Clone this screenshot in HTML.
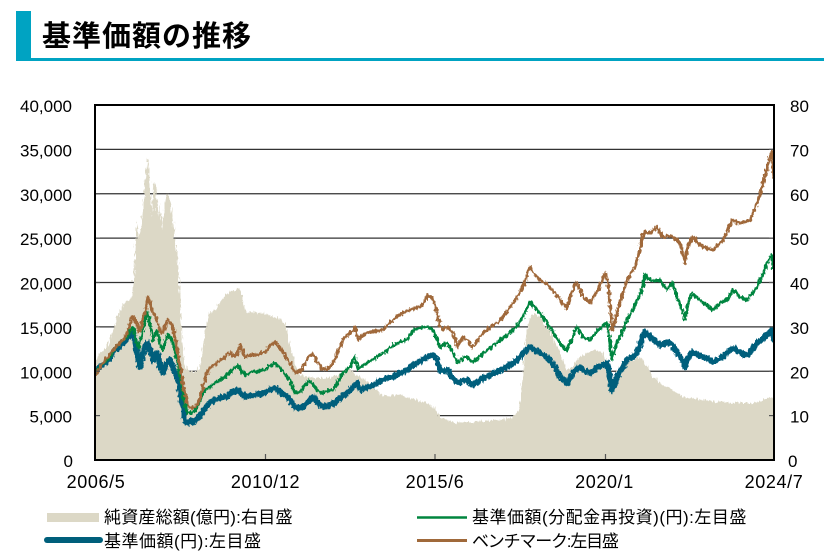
<!DOCTYPE html>
<html>
<head>
<meta charset="utf-8">
<style>
  html, body { margin:0; padding:0; background:#fff; }
  svg { display:block; }
  text { font-family: "Liberation Sans", "Noto Sans CJK JP", sans-serif; fill:#000; }
</style>
</head>
<body>
<svg width="824" height="556" viewBox="0 0 824 556" xmlns="http://www.w3.org/2000/svg">
  <defs>
    <clipPath id="plot"><rect x="95" y="105" width="679" height="355"/></clipPath>
    <filter id="jit" filterUnits="userSpaceOnUse" x="80" y="90" width="710" height="390">
      <feTurbulence type="fractalNoise" baseFrequency="0.45 0.25" numOctaves="2" seed="7" result="t"/>
      <feDisplacementMap in="SourceGraphic" in2="t" scale="5" xChannelSelector="R" yChannelSelector="G"/>
    </filter>
    <filter id="jitA" filterUnits="userSpaceOnUse" x="80" y="90" width="710" height="390">
      <feTurbulence type="fractalNoise" baseFrequency="0.6 0.15" numOctaves="2" seed="3" result="t"/>
      <feDisplacementMap in="SourceGraphic" in2="t" scale="6" xChannelSelector="R" yChannelSelector="G"/>
    </filter>
  </defs>

  <!-- Title -->
  <rect x="16" y="11" width="15" height="50" fill="#00a3c2"/>
  <rect x="16" y="58" width="808" height="3" fill="#00a3c2"/>
  <text x="42" y="46" font-size="29" font-weight="bold" letter-spacing="1">基準価額の推移</text>

  <!-- Grid lines (behind area) -->
  <g stroke="#333" stroke-width="1.2">
    <line x1="95" x2="774" y1="149.4" y2="149.4"/>
    <line x1="95" x2="774" y1="193.75" y2="193.75"/>
    <line x1="95" x2="774" y1="238.1" y2="238.1"/>
    <line x1="95" x2="774" y1="282.5" y2="282.5"/>
    <line x1="95" x2="774" y1="326.9" y2="326.9"/>
    <line x1="95" x2="774" y1="371.25" y2="371.25"/>
    <line x1="95" x2="774" y1="415.6" y2="415.6"/>
  </g>

  <g clip-path="url(#plot)">
    <!-- Net assets area -->
    <polygon filter="url(#jitA)" fill="#dcd8c6" points="95,363 98,356 100,353 103,351 105,350 108,345 110,340 112,333 115,323 118,315 120,310 123,305 125,303 128,301 130,300 132,295 133,290 134,270 135,250 136,232 137,220 138,232 139,240 140,233 141,227 142,220 143,210 144,195 145,180 146,170 147,162 148,158 149,170 150,187 151,200 152,217 153,195 154,183 155,185 156,187 157,200 158,217 159,210 160,203 161,215 162,230 163,220 164,213 165,205 166,197 167,194 168,193 169,195 170,200 171,207 172,215 173,222 174,230 175,240 176,245 177,250 178,262 179,277 180,295 181,315 182,337 183,348 184,357 185,365 187,370 190,371 193,372 196,372 198,370 200,365 202,352 204,340 205,333 207,325 209,316 210,313 212,311 215,310 218,305 220,302 222,300 225,297 228,293 230,290 232,292 234,290 236,291 238,288 240,290 242,297 245,310 247,313 250,312 253,313 255,311 258,313 262,313 266,314 270,315 273,316 275,317 278,318 282,320 285,323 287,333 290,347 292,355 295,365 298,370 300,375 305,377 310,377 317,378 325,378 333,377 340,374 345,372 350,370 355,374 360,377 365,380 370,384 373,387 378,392 383,396 390,395 395,396 400,395 405,397 410,398 417,400 423,402 428,404 433,407 437,412 440,417 445,419 450,421 457,423 463,422 468,422 473,422 480,421 487,421 493,420 500,420 505,419 510,418 513,417 516,415 518,410 520,403 522,385 524,360 526,340 527,330 529,320 530,317 532,314 535,313 538,316 540,317 543,322 546,327 550,330 553,337 556,344 560,353 563,360 565,366 567,370 570,368 573,367 577,361 580,357 585,354 590,351 593,350 597,351 600,352 603,353 606,360 608,372 610,380 612,385 615,378 618,370 620,367 625,364 630,361 633,360 637,358 640,357 643,360 647,366 650,372 653,377 657,380 660,383 664,386 667,387 672,390 677,393 683,397 690,398 697,399 703,400 710,401 718,402 727,402 735,403 743,403 750,403 757,402 763,400 768,398 772,397 774,398 780,398 780,470 90,470 90,363"/>

    <!-- NAV (blue) -->
    <polyline filter="url(#jit)" fill="none" stroke="#005f7b" stroke-width="5.8" stroke-linejoin="round" stroke-linecap="round" points="95,372 98,369 101,366 105,363 108,360 111,356 115,350 118,348 121,345 123,343 126,340 128,338 131,334 133,332 135,340 137,353 139,362 140,367 142,358 143,353 145,347 147,343 149,346 150,350 152,356 153,360 155,355 157,353 159,360 160,367 162,370 163,373 165,367 167,363 169,360 170,360 172,364 173,367 175,372 177,377 179,384 180,390 182,403 184,413 185,420 187,423 189,422 191,421 193,422 195,420 198,418 200,417 202,413 205,408 208,405 211,402 215,400 218,399 221,398 225,397 228,396 232,392 235,391 238,390 241,393 245,397 248,396 251,395 255,395 258,394 262,393 265,393 268,391 272,389 275,388 278,390 282,393 285,395 288,397 291,401 293,405 295,408 298,408 302,407 305,405 308,403 311,399 313,397 316,400 318,403 321,405 325,407 330,405 335,403 338,400 343,396 348,392 352,388 357,383 360,388 362,390 365,388 367,387 372,386 377,383 383,380 388,378 393,377 398,374 403,372 407,370 412,366 417,363 421,361 424,359 427,357 430,356 432,355 435,357 437,360 439,366 440,370 443,371 447,370 450,374 453,378 456,381 458,383 461,382 464,380 467,380 470,383 473,385 476,383 479,381 483,378 487,377 491,375 495,373 500,370 504,368 508,366 513,363 516,361 520,357 523,353 526,350 530,347 533,349 537,351 540,353 545,356 550,360 555,367 560,377 563,380 567,383 570,378 573,373 577,369 580,367 583,370 587,372 590,373 594,371 598,367 602,366 605,363 607,363 609,370 611,382 612,390 614,386 617,377 620,372 623,367 627,360 630,358 634,356 637,353 640,345 643,336 645,332 648,335 650,337 654,340 657,343 660,345 664,344 667,342 670,343 673,346 677,353 680,356 683,362 685,367 687,360 690,355 693,352 696,354 700,356 703,357 707,358 710,360 713,362 717,360 720,358 724,356 727,353 730,350 733,348 737,350 740,352 744,354 747,355 750,352 753,348 757,343 760,341 764,338 767,335 770,332 772,329 774,340"/>

    <!-- NAV reinvested (green) -->
    <polyline filter="url(#jit)" fill="none" stroke="#00853f" stroke-width="3" stroke-linejoin="round" points="95,372 98,369 101,366 105,362 108,359 111,355 115,348 118,345 121,342 123,340 126,337 128,335 131,330 133,327 135,335 137,345 139,347 140,342 142,335 143,330 145,322 147,312 149,318 150,325 152,333 153,340 155,335 157,330 159,338 160,345 162,348 163,350 165,342 167,337 168,335 170,337 172,340 174,348 177,360 179,368 180,375 182,388 183,395 185,405 187,413 190,413 192,412 195,411 198,405 200,400 202,396 205,390 208,388 210,387 213,385 215,383 218,381 221,379 225,377 228,374 232,370 235,368 238,365 241,370 245,375 248,374 251,372 255,372 258,371 262,370 265,370 268,367 272,365 275,363 278,366 282,370 285,374 288,378 290,380 293,388 295,393 298,392 302,390 305,385 308,381 312,383 316,388 320,393 325,392 330,390 333,390 338,382 343,373 347,369 350,367 353,360 355,357 358,370 362,366 367,363 372,360 377,357 383,353 388,350 393,345 398,343 403,341 407,340 410,335 413,330 417,329 421,328 424,327 427,327 430,328 433,330 436,337 438,342 440,347 443,345 447,343 450,348 453,353 456,358 458,363 461,360 464,357 467,357 470,360 473,362 476,360 479,357 483,353 487,350 491,347 495,344 500,340 504,337 508,334 513,330 516,327 520,322 523,317 526,310 528,306 530,302 533,305 537,310 540,313 545,320 550,327 555,335 560,343 563,347 567,350 570,343 573,337 575,330 577,327 580,332 583,337 587,339 590,340 594,335 598,330 602,327 605,323 607,323 609,335 611,352 612,360 614,352 617,343 620,337 623,330 627,320 630,315 634,308 637,300 640,295 642,290 644,280 645,275 648,278 650,280 654,281 657,280 660,280 664,286 667,290 670,285 672,283 675,290 677,297 680,305 683,313 685,320 687,308 690,298 693,293 696,297 700,300 703,303 707,305 710,308 713,310 717,306 720,303 724,301 727,300 730,295 733,290 737,293 740,297 744,299 747,300 750,296 753,293 757,287 760,280 764,272 767,263 770,258 772,255 774,270"/>

    <!-- Benchmark (brown) -->
    <polyline filter="url(#jit)" fill="none" stroke="#a0693a" stroke-width="3" stroke-linejoin="round" points="95,375 98,371 101,366 105,360 108,357 111,353 115,348 118,345 121,342 123,340 126,335 128,330 131,322 133,316 135,320 137,325 139,332 140,330 142,322 145,313 147,302 148,297 150,303 152,310 155,315 158,325 160,330 162,333 164,330 166,324 168,320 170,322 172,325 174,332 176,342 178,355 180,365 182,378 184,390 186,398 188,405 190,407 192,408 195,407 198,403 200,398 202,390 205,380 208,370 211,367 215,365 218,362 221,360 225,357 228,354 230,352 233,356 237,355 240,345 243,352 245,357 248,356 251,355 255,355 258,354 262,353 265,352 268,348 272,344 275,342 278,346 282,350 285,355 288,360 290,363 293,368 295,373 298,372 302,370 305,363 308,358 312,353 315,358 318,363 321,367 325,370 330,367 333,363 338,352 343,340 347,335 350,333 353,330 355,327 358,340 362,336 367,333 372,332 377,331 383,330 388,325 393,320 398,316 403,313 407,311 410,310 415,308 420,307 424,302 428,295 431,297 433,300 436,308 438,317 440,325 442,330 445,328 447,327 450,330 453,333 456,340 457,347 460,342 463,337 467,340 470,344 472,347 476,343 479,338 483,333 487,330 491,327 495,324 500,320 504,316 508,310 513,303 516,299 520,292 523,287 526,278 528,272 530,267 533,272 537,277 540,280 545,283 550,287 555,293 560,300 563,304 567,308 570,298 573,290 575,285 577,283 580,290 583,297 587,300 590,303 594,296 598,290 602,280 605,273 607,278 608,283 610,305 612,330 614,325 617,313 620,302 623,293 627,280 630,275 635,267 638,258 640,250 643,235 645,232 650,233 654,230 657,227 660,232 663,237 667,236 670,236 673,237 677,240 680,243 683,255 685,263 687,250 690,242 693,237 696,240 700,245 703,247 707,248 710,249 713,250 717,246 720,243 723,240 727,232 730,224 732,220 736,222 740,223 744,222 747,221 750,220 753,213 757,203 760,195 763,183 766,173 768,165 770,157 772,152 774,178"/>
  </g>

  <!-- Ticks (above area) -->
  <g stroke="#555" stroke-width="1.2">
    <line x1="95" x2="100" y1="149.4" y2="149.4"/>
    <line x1="95" x2="100" y1="193.75" y2="193.75"/>
    <line x1="95" x2="100" y1="238.1" y2="238.1"/>
    <line x1="95" x2="100" y1="282.5" y2="282.5"/>
    <line x1="95" x2="100" y1="326.9" y2="326.9"/>
    <line x1="95" x2="100" y1="371.25" y2="371.25"/>
    <line x1="95" x2="100" y1="415.6" y2="415.6"/>
    <line x1="769" x2="774" y1="149.4" y2="149.4"/>
    <line x1="769" x2="774" y1="193.75" y2="193.75"/>
    <line x1="769" x2="774" y1="238.1" y2="238.1"/>
    <line x1="769" x2="774" y1="282.5" y2="282.5"/>
    <line x1="769" x2="774" y1="326.9" y2="326.9"/>
    <line x1="769" x2="774" y1="371.25" y2="371.25"/>
    <line x1="769" x2="774" y1="415.6" y2="415.6"/>
    <line x1="265.5" x2="265.5" y1="454" y2="460"/>
    <line x1="435" x2="435" y1="454" y2="460"/>
    <line x1="605.5" x2="605.5" y1="454" y2="460"/>
  </g>

  <!-- Plot frame -->
  <rect x="95" y="105" width="679" height="355" fill="none" stroke="#000" stroke-width="2"/>

  <!-- Left axis labels -->
  <g font-size="17" text-anchor="end">
    <text x="72" y="112">40,000</text>
    <text x="72" y="156.4">35,000</text>
    <text x="72" y="200.75">30,000</text>
    <text x="72" y="245.1">25,000</text>
    <text x="72" y="289.5">20,000</text>
    <text x="72" y="333.9">15,000</text>
    <text x="72" y="378.25">10,000</text>
    <text x="72" y="422.6">5,000</text>
    <text x="73" y="467">0</text>
  </g>

  <!-- Right axis labels -->
  <g font-size="17">
    <text x="790" y="112">80</text>
    <text x="790" y="156.4">70</text>
    <text x="790" y="200.75">60</text>
    <text x="790" y="245.1">50</text>
    <text x="790" y="289.5">40</text>
    <text x="790" y="333.9">30</text>
    <text x="790" y="378.25">20</text>
    <text x="790" y="422.6">10</text>
    <text x="788" y="467">0</text>
  </g>

  <!-- X axis labels -->
  <g font-size="18" letter-spacing="0.6" text-anchor="middle">
    <text x="96" y="488">2006/5</text>
    <text x="265.5" y="488">2010/12</text>
    <text x="435" y="488">2015/6</text>
    <text x="604.5" y="488">2020/1</text>
    <text x="774" y="488">2024/7</text>
  </g>

  <!-- Legend -->
  <rect x="47" y="513" width="52" height="9" fill="#dcd8c6"/>
  <text x="104" y="523" font-size="17" letter-spacing="0.2">純資産総額(億円):右目盛</text>
  <line x1="47" x2="100" y1="540" y2="540" stroke="#005f7b" stroke-width="6" stroke-linecap="round"/>
  <text x="104" y="547" font-size="17" letter-spacing="0.5">基準価額(円):左目盛</text>

  <line x1="417" x2="467" y1="517.5" y2="517.5" stroke="#00853f" stroke-width="2.5"/>
  <text x="472" y="523" font-size="17" letter-spacing="0.5">基準価額(分配金再投資)(円):左目盛</text>
  <line x1="417" x2="467" y1="540.5" y2="540.5" stroke="#a0693a" stroke-width="3"/>
  <text x="472" y="547" font-size="17" letter-spacing="-1.2">ベンチマーク:左目盛</text>
</svg>
</body>
</html>
